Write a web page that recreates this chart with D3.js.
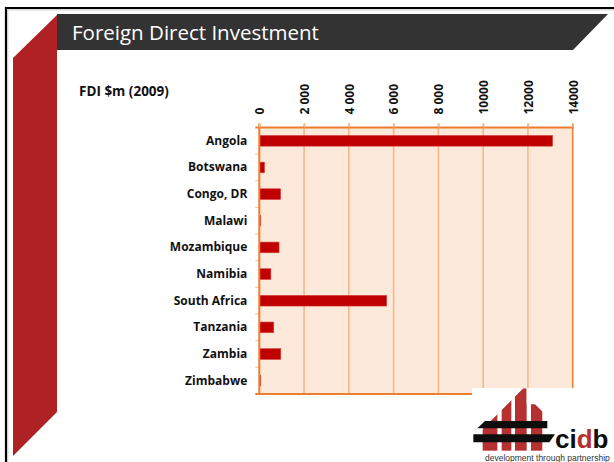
<!DOCTYPE html>
<html>
<head>
<meta charset="utf-8">
<script src="https://cdn.jsdelivr.net/npm/d3@7"></script>
<style>
  html, body { margin: 0; padding: 0; background: #fff; }
  svg { display: block; }
</style>
</head>
<body>
<svg id="chart" width="614" height="462"></svg>
<script>
// FDI inflows, $ million, 2009
const countries = ["Angola", "Botswana", "Congo, DR", "Malawi", "Mozambique",
                   "Namibia", "South Africa", "Tanzania", "Zambia", "Zimbabwe"];
const fdiValues = [13100, 230, 951, 60, 881, 516, 5690, 645, 959, 60];
const tickValues = [0, 2000, 4000, 6000, 8000, 10000, 12000, 14000];
const tickLabels = ["0", "2 000", "4 000", "6 000", "8 000", "10000", "12000", "14000"];
const titleText = "Foreign Direct Investment";
const axisTitle = "FDI $m (2009)";

const labelFont = "'Open Sans', sans-serif";
const svg = d3.select("#chart");

// slide frame
svg.append("path")
  .attr("d", "M6,470 V8 H620")
  .attr("fill", "none").attr("stroke", "#000").attr("stroke-width", 2.2);
svg.append("path")
  .attr("d", "M7.8,470 V9.8 H620")
  .attr("fill", "none").attr("stroke", "#c8c8c8").attr("stroke-width", 1);

// red side band
svg.append("polygon")
  .attr("points", "13,58 57,15 57,412 13,456")
  .attr("fill", "#B02124");

// header bar
svg.append("polygon")
  .attr("points", "57,14 608,14 573,50 57,50")
  .attr("fill", "#333333");
svg.append("text")
  .attr("x", 72).attr("y", 40)
  .attr("font-family", "'Open Sans', sans-serif")
  .attr("font-size", 20.5)
  .attr("fill", "#fff")
  .text(titleText);

svg.append("text")
  .attr("x", 79).attr("y", 95.5)
  .attr("font-family", labelFont)
  .attr("font-weight", "bold")
  .attr("font-size", 13.5)
  .attr("fill", "#111")
  .text(axisTitle);

// plot geometry
const plotLeft = 259.3, plotRight = 572.7, plotTop = 127.5, plotBottom = 394;
const x = d3.scaleLinear().domain([0, 14000]).range([plotLeft, plotRight]);
const yBand = d3.scaleBand().domain(countries).range([plotTop, plotBottom]).padding(0);
const yBar = d3.scaleBand().domain(countries).range([plotTop, plotBottom])
  .paddingInner(0.6).paddingOuter(0.3);

const axisColor = "#EC7D31";
const gridColor = "#F6B386";

svg.append("rect")
  .attr("x", plotLeft).attr("y", plotTop)
  .attr("width", plotRight - plotLeft).attr("height", plotBottom - plotTop)
  .attr("fill", "#FDE9D9");

// vertical gridlines
svg.append("g").selectAll("line")
  .data(tickValues.slice(1))
  .join("line")
  .attr("x1", d => x(d)).attr("x2", d => x(d))
  .attr("y1", plotTop - 4).attr("y2", plotBottom)
  .attr("stroke", (d, i, n) => i === n.length - 1 ? axisColor : gridColor)
  .attr("stroke-width", 1.5);

// bars
svg.append("g").selectAll("rect")
  .data(countries)
  .join("rect")
  .attr("x", x(0))
  .attr("y", d => yBar(d))
  .attr("width", (d, i) => x(fdiValues[i]) - x(0))
  .attr("height", yBar.bandwidth())
  .attr("fill", "#C00000")
  .attr("stroke", "#D23C3C")
  .attr("stroke-width", 0.6);

// category boundary ticks
const bounds = countries.map(c => yBand(c)).concat([plotBottom]);
svg.append("g").selectAll("line")
  .data(bounds.slice(1, -1))
  .join("line")
  .attr("x1", plotLeft - 4).attr("x2", plotLeft)
  .attr("y1", d => d).attr("y2", d => d)
  .attr("stroke", "#F8C7A2").attr("stroke-width", 1.2);

// bottom and left edges
svg.append("line")
  .attr("x1", plotLeft - 4).attr("x2", plotRight + 1)
  .attr("y1", plotBottom).attr("y2", plotBottom)
  .attr("stroke", axisColor).attr("stroke-width", 2);
svg.append("line")
  .attr("x1", plotLeft).attr("x2", plotLeft)
  .attr("y1", plotTop - 4).attr("y2", plotBottom + 1)
  .attr("stroke", axisColor).attr("stroke-width", 2);

// top value axis
const xAxis = d3.axisTop(x)
  .tickValues(tickValues)
  .tickSize(4)
  .tickFormat((d, i) => tickLabels[i]);
const gx = svg.append("g")
  .attr("transform", `translate(0,${plotTop})`)
  .call(xAxis);
gx.select(".domain")
  .attr("d", `M${plotLeft - 4},0H${plotRight + 1}`)
  .attr("stroke", axisColor).attr("stroke-width", 2);
gx.selectAll(".tick line").attr("stroke", gridColor).attr("stroke-width", 1.5);
gx.selectAll(".tick text")
  .attr("transform", "rotate(-90)")
  .attr("x", 13).attr("y", 0).attr("dy", "0.36em")
  .attr("text-anchor", "start")
  .attr("font-family", labelFont)
  .attr("font-weight", "bold")
  .attr("font-size", 12)
  .attr("fill", "#111");

// category axis labels
const yAxis = d3.axisLeft(yBand).tickSize(0).tickPadding(12);
const gy = svg.append("g")
  .attr("transform", `translate(${plotLeft},0)`)
  .call(yAxis);
gy.select(".domain").remove();
gy.selectAll(".tick text")
  .attr("font-family", labelFont)
  .attr("font-weight", "bold")
  .attr("font-size", 12)
  .attr("fill", "#111");

// cidb logo
const logo = svg.append("g");
logo.append("rect")
  .attr("x", 472).attr("y", 388).attr("width", 150).attr("height", 80)
  .attr("fill", "#fff");

const mark = logo.append("g").attr("transform", "translate(470,385) scale(0.3333)");
const clip = svg.append("defs").append("clipPath").attr("id", "roof");
clip.append("polygon")
  .attr("points", "35,135 160,10 170,10 170,58 195,58 218,80 218,200 35,200");
const pillars = [[38, 82], [95, 124], [135, 170], [183, 218]];
mark.append("g").attr("clip-path", "url(#roof)")
  .selectAll("rect")
  .data(pillars)
  .join("rect")
  .attr("x", d => d[0]).attr("y", 0)
  .attr("width", d => d[1] - d[0]).attr("height", 197)
  .attr("fill", "#B5302F");
mark.append("polygon")
  .attr("points", "45,108 232,108 232,130 22,130")
  .attr("fill", "#0d0d0d");
mark.append("polygon")
  .attr("points", "10,148 255,148 238,172 10,172")
  .attr("fill", "#0d0d0d");

const word = logo.append("text")
  .attr("x", 555).attr("y", 447.5)
  .attr("font-family", "'Liberation Sans', Arial, sans-serif")
  .attr("font-weight", "bold")
  .attr("font-size", 26)
  .attr("fill", "#0d0d0d");
word.append("tspan").text("ci");
word.append("tspan").attr("fill", "#B5302F").text("d");
word.append("tspan").text("b");

logo.append("text")
  .attr("x", 485).attr("y", 460.5)
  .attr("font-family", "'Liberation Sans', Arial, sans-serif")
  .attr("font-size", 8.5)
  .attr("fill", "#333")
  .text("development through partnership");
</script>
</body>
</html>
